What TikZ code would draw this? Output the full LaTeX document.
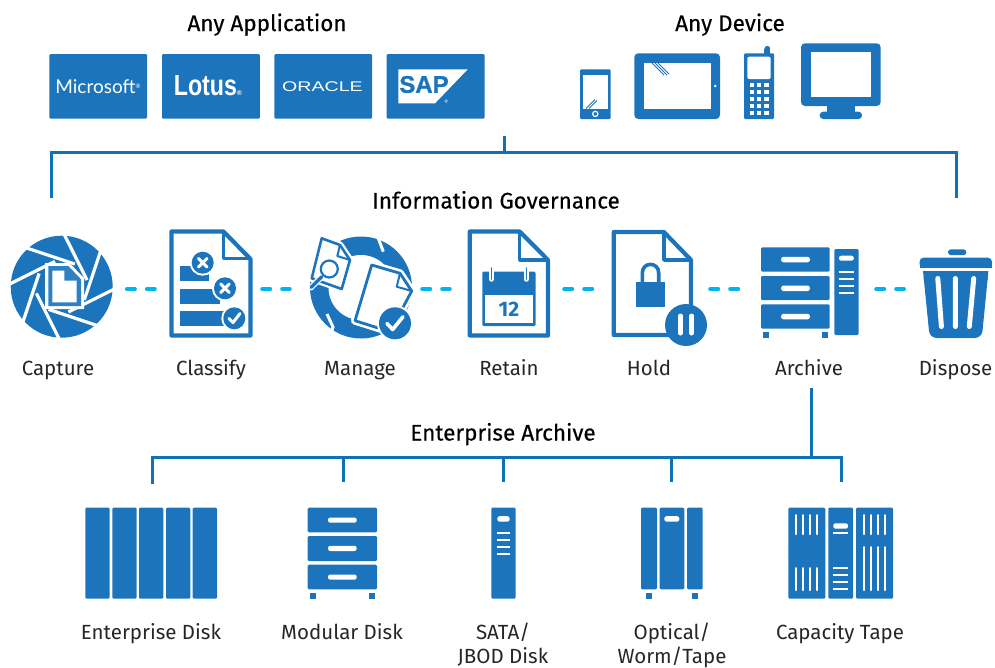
\documentclass[tikz,border=0pt]{standalone}
\usepackage{fontspec}
\usepackage{graphicx}
\setmainfont{Fira Sans}
\newfontfamily\headfont[FakeBold=0.25]{Fira Sans}
\newfontfamily\logofont{Liberation Sans}
\newfontfamily\sapfont[FakeBold=1.2]{Liberation Sans}
\newfontfamily\lightfont{Lato}
\definecolor{iconblue}{HTML}{1C75BC}
\definecolor{treeblue}{HTML}{0D72B6}
\definecolor{dashcyan}{HTML}{00B5EF}
\tikzset{
  box/.style={fill=iconblue,rounded corners=1.2pt,draw=none},
  keyhole/.style={fill=white,draw=none,rounded corners=2.2pt},
  whiteline/.style={white,line width=2.4pt,line cap=round},
  sheet/.style={draw=iconblue,line width=4.2pt,line join=round,fill=white},
  foldline/.style={draw=iconblue,line width=3.4pt,line join=round},
  tree/.style={draw=treeblue,line width=3pt},
  dashlink/.style={draw=dashcyan,line width=4pt,line cap=round,dash pattern=on 8pt off 12pt},
  label/.style={font=\fontsize{20.5}{25}\selectfont,align=center,inner sep=0pt,text=black!85,anchor=base},
  heading/.style={font=\headfont\fontsize{22.5}{26}\selectfont,inner sep=0pt,text=black,anchor=base},
  spot/.style={inner sep=0pt,draw=none},
  logo/.style={inner sep=0pt,text=white},
}
\begin{document}
\begin{tikzpicture}[x=1pt,y=-1pt]
\useasboundingbox (0,0) rectangle (995,667);

% ---------- headings
\node[heading] (hApp) at (267,31) {Any Application};
\node[heading] (hDev) at (730,31) {Any Device};
\node[heading] (hGov) at (496,208.5) {Information Governance};
\node[heading] (hArc) at (503,440.5) {Enterprise Archive};

% ---------- logos
\foreach \x in {49.3,162,274.3,386.7}
  \fill[box] (\x,54) rectangle ++(97.8,64.7);
\node[logo,font=\lightfont\fontsize{19}{22}\selectfont] (ms) at (98,87) {Microsoft\raisebox{5pt}{\fontsize{6}{6}\selectfont ®}};
\node[logo,font=\logofont\bfseries\fontsize{29}{30}\selectfont] (lotus) at (208,86) {\scalebox{.8}[1]{Lotus}\raisebox{0pt}{\fontsize{7}{7}\selectfont ®}};
\node[logo,font=\logofont\fontsize{14}{16}\selectfont] (oracle) at (322.5,87) {\scalebox{1.4}[1]{ORACLE}};
\fill[white] (398.3,69.3) -- (467.7,69.3) -- (435,103.3) -- (398.3,103.3) -- cycle;
\node[inner sep=0pt,text=iconblue,font=\sapfont\bfseries\fontsize{24}{26}\selectfont] (sap) at (424,84.5) {SAP};
\node[logo,font=\fontsize{6}{6}\selectfont] (sapr) at (446.3,102) {®};

% ---------- devices
% phone
\fill[box] (580,69.3) rectangle (610.7,119);
\fill[white] (582.7,75) rectangle (608,109);
\draw[white,line width=1.2pt] (595.3,113.9) circle (2.6);
\draw[iconblue,line width=1pt] (586,108.5) -- (595,99.5) (589,108.5) -- (597,100.5);
% tablet
\fill[iconblue,rounded corners=4pt] (634.3,53.3) rectangle (720,119);
\fill[white] (644,63) rectangle (710.7,109.3);
\fill[white] (715.3,86) circle (1.4);
\draw[iconblue,line width=1pt] (652,63) -- (664,75) (655,63) -- (667,75) (658,63) -- (669,74);
% cell phone
\fill[iconblue] (767.3,48.8) circle (2.9);
\fill[iconblue] (764.4,49) rectangle (770.2,54);
\fill[box] (744,53.3) rectangle (774,119);
\fill[white,rounded corners=2pt] (747.3,56.7) rectangle (770.7,79);
\foreach \kx in {751.7,759,766.3}
  \foreach \ky in {85,92,99,106,112.7}
    \fill[white] (\kx-2.2,\ky-2.2) rectangle (\kx+2.2,\ky+2.2);
% monitor
\fill[iconblue,rounded corners=4pt] (801,43.3) rectangle (880.7,106);
\fill[white] (810.7,52.3) rectangle (871.3,97);
\fill[iconblue] (826.7,105) rectangle (855,112.5);
\fill[iconblue,rounded corners=3.5pt] (819.7,111.7) rectangle (862,119);

% ---------- top bracket
\coordinate (bracketStem) at (504,136);
\coordinate (bracketMid) at (504,152);
\coordinate (bracketL) at (51,198);
\coordinate (bracketR) at (956,198);
\draw[tree] (bracketStem) -- (bracketMid);
\draw[tree] (bracketL) |- (bracketMid) -| (bracketR);

% ---------- icon anchors for the process chain
\node[spot,minimum width=102pt,minimum height=102pt] (capture) at (61.7,286.7) {};
\node[spot,minimum width=84pt,minimum height=108pt] (classify) at (211,283.5) {};
\node[spot,minimum width=104pt,minimum height=102pt] (manage) at (360,286.7) {};
\node[spot,minimum width=84pt,minimum height=108pt] (retain) at (509,283.5) {};
\node[spot,minimum width=96pt,minimum height=108pt] (hold) at (659,283.5) {};
\node[spot,minimum width=98pt,minimum height=90pt] (archive) at (810,292.5) {};
\node[spot,minimum width=73pt,minimum height=90pt] (dispose) at (955.7,293.5) {};

% ---------- capture
\fill[iconblue] (capture.center) circle (51);
\foreach \a in {0,45,...,315}
  \draw[white,line width=3.2pt,rotate around={\a:(61.7,286.7)}] (64,234) -- (87,280);
\fill[white] (45,263) -- (69.5,263) -- (84,278) -- (84,309) -- (45,309) -- cycle;
\fill[iconblue!92!white] (48.3,266) -- (68.3,266) -- (81,279.3) -- (81,306) -- (48.3,306) -- cycle;
\fill[white] (52.3,270.7) -- (64.3,270.7) -- (64.3,280.7) -- (76.7,280.7) -- (76.7,302.3) -- (52.3,302.3) -- cycle;

% ---------- classify
\draw[sheet] (171.5,231.5) -- (223.5,231.5) -- (250.5,259) -- (250.5,335.5) -- (171.5,335.5) -- cycle;
\draw[foldline] (223.5,231.5) -- (223.5,258.5) -- (250.5,258.5);
\fill[iconblue] (180.3,266) rectangle (209,281);
\fill[iconblue] (180.3,289) rectangle (220,304);
\fill[iconblue] (180.3,311) rectangle (226,326);
\foreach \cx/\cy in {202.7/262.7,225/288.3,234.3/318.3}{
  \fill[white] (\cx,\cy) circle (13);
  \fill[iconblue] (\cx,\cy) circle (11);
}
\foreach \cx/\cy in {202.7/262.7,225/288.3}
  \draw[white,line width=3pt,line cap=round] (\cx-4.3,\cy-4.3) -- (\cx+4.3,\cy+4.3) (\cx-4.3,\cy+4.3) -- (\cx+4.3,\cy-4.3);
\draw[white,line width=3pt,line cap=round,line join=round] (229,318.5) -- (233,322.6) -- (240,313.5);

% ---------- manage
\fill[iconblue] (361,287.5) circle (51);
\fill[white] (361,287.5) circle (32.5);
\draw[white,line width=3pt] (376.7,234) -- (383.3,251.7);
\draw[white,line width=3pt] (327,314) -- (333,327) -- (329,339);
% small document
\draw[white,line width=7pt,line join=round] (321.7,238.3) -- (340,245) -- (350,260) -- (341.7,289) -- (311.7,278.3) -- cycle;
\draw[draw=iconblue,fill=white,line width=2.6pt,line join=round] (321.7,238.3) -- (340,245) -- (350,260) -- (341.7,289) -- (311.7,278.3) -- cycle;
\draw[draw=iconblue,line width=2pt,line join=round] (340,245) -- (337.3,256) -- (350,260);
\draw[white,line width=6pt,line cap=round] (321.7,276.7) -- (311,287.5);
\draw[iconblue,line width=3.4pt,line cap=round] (321.7,276.7) -- (311,287.5);
\draw[draw=iconblue,fill=white,line width=2.2pt] (329.3,269) circle (8.5);
% large document
\draw[white,line width=8pt,line join=round] (371.7,265) -- (400,273.3) -- (411.7,291) -- (390,331.7) -- (355,320.7) -- cycle;
\draw[draw=iconblue,fill=white,line width=2.8pt,line join=round] (371.7,265) -- (400,273.3) -- (411.7,291) -- (390,331.7) -- (355,320.7) -- cycle;
\draw[draw=iconblue,line width=2pt,line join=round] (400,273.3) -- (396.7,286.7) -- (411.7,291);
\fill[white] (395,323.3) circle (18);
\fill[iconblue] (395,323.3) circle (16);
\draw[white,line width=3.6pt,line cap=round,line join=round] (387,323.5) -- (392.7,329.5) -- (403,316.7);

% ---------- retain
\draw[sheet] (469.8,231.5) -- (519.7,231.5) -- (548,260) -- (548,335.5) -- (469.8,335.5) -- cycle;
\draw[foldline] (519.7,231.5) -- (519.7,260) -- (548,260);
\fill[iconblue,rounded corners=1.2pt] (482.3,271.7) rectangle (535.5,326);
\fill[white] (485,295) rectangle (532.6,323);
\foreach \rx in {491.5,526.3}{
  \draw[white,line width=4.4pt,line cap=round] (\rx,268.5) -- (\rx,279.5);
  \draw[iconblue,line width=1.6pt,line cap=round] (\rx,268) -- (\rx,279);
}
\node[inner sep=0pt,text=iconblue,font=\bfseries\fontsize{21}{22}\selectfont] (calnum) at (509,309) {12};

% ---------- hold
\draw[sheet] (613.8,232) -- (663.9,232) -- (691,260) -- (691,335) -- (613.8,335) -- cycle;
\draw[foldline] (663.9,232) -- (663.9,260) -- (691,260);
\fill[iconblue] (636.4,281.7) rectangle (665,307.3);
\draw[iconblue,line width=3.6pt] (642.3,283) -- (642.3,273) .. controls (642.3,261.5) and (658.7,261.5) .. (658.7,273) -- (658.7,283);
\fill[iconblue] (686,325) circle (21);
\draw[white,line width=5pt,line cap=round] (680.5,316) -- (680.5,333) (691.5,316) -- (691.5,333);

% ---------- archive (drawers and tower)
\foreach \dy/\dh in {247.3/24.4,276/24,304.3/24.4}{
  \fill[box] (761,\dy) rectangle (829.6,\dy+\dh);
  \fill[keyhole] (781.2,\dy+9.5) rectangle (809.8,\dy+15);
}
\fill[iconblue] (763,332.3) rectangle (769,338);
\fill[iconblue] (822,332.3) rectangle (828,338);
\fill[box] (834.4,249) rectangle (858.6,335);
\fill[keyhole] (839,255.7) rectangle (853.8,260.7);
\foreach \ly in {271.7,278.7,285.7,292.7}
  \fill[white] (839,\ly-1.1) rectangle (853.8,\ly+1.1);

% ---------- dispose
\fill[iconblue,rounded corners=3pt] (948,249.3) -- (966.4,249.3) -- (966.4,255.2) -- (948,255.2) -- cycle;
\fill[iconblue,rounded corners=4pt] (919.5,267.7) -- (919.5,257.7) -- (992,257.7) -- (992,267.7) -- cycle;
\fill[iconblue] (919.5,264) rectangle (992,267.7);
\fill[iconblue,rounded corners=7pt] (923,271) -- (988.4,271) -- (981.8,338) -- (929.7,338) -- cycle;
\fill[iconblue] (923,271) -- (988.4,271) -- (987.5,280) -- (924,280) -- cycle;
\draw[white,line width=5pt,line cap=round] (937.8,278.5) -- (941.4,326.5) (955.4,278.5) -- (955.4,326.5) (973.7,278.5) -- (969.3,326.5);

% ---------- chain connectors
\draw[dashlink,shorten <=14pt,shorten >=14pt] (capture.east |- 0,289) -- (classify.west |- 0,289);
\draw[dashlink,shorten <=9pt,shorten >=18pt] (classify.east |- 0,289) -- (manage.west |- 0,289);
\draw[dashlink,shorten <=10pt,shorten >=17pt] (manage.east |- 0,289) -- (retain.west |- 0,289);
\draw[dashlink,shorten <=13pt,shorten >=15pt] (retain.east |- 0,289) -- (hold.west |- 0,289);
\draw[dashlink,shorten <=3pt,shorten >=21pt] (hold.east |- 0,289) -- (archive.west |- 0,289);
\draw[dashlink,shorten <=17pt,shorten >=15pt] (archive.east |- 0,289) -- (dispose.west |- 0,289);

% ---------- labels of the chain
\node[label] (lCapture) at (58,375) {Capture};
\node[label] (lClassify) at (211,375) {Classify};
\node[label] (lManage) at (360,375) {Manage};
\node[label] (lRetain) at (509,375) {Retain};
\node[label] (lHold) at (649,375) {Hold};
\node[label] (lArchive) at (809,375) {Archive};
\node[label] (lDispose) at (955.5,375) {Dispose};

% ---------- enterprise archive bracket
\coordinate (arcTop) at (811,388);
\coordinate (arcBar) at (811,457);
\coordinate (drop1) at (152,484);
\coordinate (drop2) at (343,482);
\coordinate (drop3) at (503,482);
\coordinate (drop4) at (671,482);
\coordinate (drop5) at (841,482);
\draw[tree] (arcTop) -- (arcBar);
\draw[tree] (drop1) |- (arcBar -| drop5) -- (drop5);
\foreach \d in {drop2,drop3,drop4}
  \draw[tree] (\d) -- (\d |- arcBar);

% ---------- enterprise disk
\foreach \x in {85.3,112.3,139,166,192.7}
  \fill[box] (\x,507.7) rectangle ++(24.4,91);
% ---------- modular disk
\foreach \dy/\dh in {507.7/24.6,536/25,564.7/24.6}{
  \fill[box] (307.7,\dy) rectangle (377,\dy+\dh);
  \fill[keyhole] (328,\dy+9.8) rectangle (356.7,\dy+15);
}
\fill[iconblue] (310,593) rectangle (316,599);
\fill[iconblue] (369,593) rectangle (375,599);
% ---------- sata
\fill[box] (491.3,507.7) rectangle (515.7,598.7);
\fill[keyhole] (497.3,516.2) rectangle (509.7,521.6);
\foreach \ly in {532.7,539.7,546.7,553.7}
  \fill[white] (497.3,\ly-1.1) rectangle (509.7,\ly+1.1);
% ---------- optical
\fill[box] (641,507.7) rectangle (657,589.3);
\fill[box] (659.7,507.7) rectangle (684.3,589.3);
\fill[box] (687,507.7) rectangle (702.7,589.3);
\fill[keyhole] (664.3,516.2) rectangle (679.3,521.6);
\fill[iconblue] (646,593) rectangle (652,599);
\fill[iconblue] (692,593) rectangle (698,599);
% ---------- capacity tape
\fill[box] (788.3,507.7) rectangle (825.3,598.7);
\fill[box] (828.3,507.7) rectangle (853,598.7);
\fill[box] (856,507.7) rectangle (893,598.7);
\foreach \vx in {796,803.3,810.3,817.3}{
  \draw[whiteline,line width=2pt] (\vx,515) -- (\vx,534);
  \draw[whiteline,line width=2pt] (\vx,568) -- (\vx,590);
}
\foreach \vx in {863.7,871,878,885}{
  \draw[whiteline,line width=2pt] (\vx,515) -- (\vx,534);
  \draw[whiteline,line width=2pt] (\vx,547) -- (\vx,590);
}
\fill[keyhole] (833.3,523.3) rectangle (848,528.7);
\foreach \ly in {533.3,567.7,574.7,581.7,589}
  \fill[white] (833.3,\ly-1.1) rectangle (848,\ly+1.1);

% ---------- lower labels
\node[label] (lEnt) at (151,639) {Enterprise Disk};
\node[label] (lMod) at (342,639) {Modular Disk};
\node[label] (lSata) at (503,639) {SATA/};
\node[label] (lSata2) at (503,663.5) {JBOD Disk};
\node[label] (lOpt) at (672,639) {Optical/};
\node[label] (lOpt2) at (672,663.5) {Worm/Tape};
\node[label] (lCap) at (840,639) {Capacity Tape};
\end{tikzpicture}
\end{document}
